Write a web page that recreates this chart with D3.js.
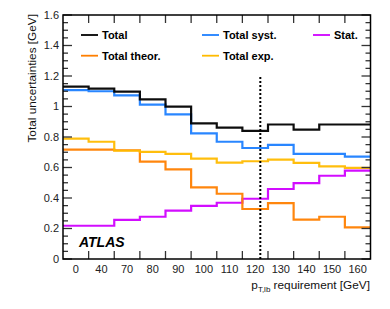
<!DOCTYPE html>
<html>
<head>
<meta charset="utf-8">
<script src="https://cdn.jsdelivr.net/npm/d3@7"></script>
<style>
  body { margin: 0; background: #fff; }
  text { font-family: "Liberation Sans", Arial, sans-serif; }
</style>
</head>
<body>
<div id="chart"></div>
<script>
// bin labels (pT,lb requirement)
var binLabels = ["0", "40", "70", "80", "90", "100", "110", "120", "130", "140", "150", "160"];

// uncertainties per bin [GeV]
var totalVals = [1.130, 1.117, 1.097, 1.047, 0.999, 0.890, 0.861, 0.840, 0.882, 0.848, 0.882, 0.882];
var systVals  = [1.108, 1.100, 1.073, 1.012, 0.949, 0.824, 0.769, 0.728, 0.748, 0.690, 0.690, 0.671];
var expVals   = [0.789, 0.769, 0.710, 0.702, 0.690, 0.658, 0.632, 0.641, 0.651, 0.630, 0.608, 0.597];
var theorVals = [0.717, 0.717, 0.713, 0.638, 0.588, 0.470, 0.428, 0.328, 0.367, 0.258, 0.277, 0.208];
var statVals  = [0.218, 0.218, 0.256, 0.277, 0.317, 0.348, 0.369, 0.395, 0.459, 0.498, 0.546, 0.579];

var yTicks = [0, 0.2, 0.4, 0.6, 0.8, 1, 1.2, 1.4, 1.6];
var chosenBin = 7.7;   // dotted marker (in bin units)
var chosenTop = 1.2;

var svgWidth = 390;
var svgHeight = 309;
var leftX = 63;
var rightX = 370.5;
var topY = 15;
var bottomY = 259;

var series = [
    {name: "Stat.", vals: statVals, color: "#d000ff"},
    {name: "Total theor.", vals: theorVals, color: "#ff7f00"},
    {name: "Total exp.", vals: expVals, color: "#ffbb00"},
    {name: "Total syst.", vals: systVals, color: "#1e7fff"},
    {name: "Total", vals: totalVals, color: "#000000"}
];

var svg = d3.select("#chart")
    .append("svg")
    .attr("width", svgWidth)
    .attr("height", svgHeight);

var xScale = d3.scaleLinear()
    .domain([0, binLabels.length])
    .range([leftX, rightX]);
var yScale = d3.scaleLinear()
    .domain([0, 1.6])
    .range([bottomY, topY]);

// step lines
var line = d3.line()
    .x(d => xScale(d[0]))
    .y(d => yScale(d[1]))
    .curve(d3.curveStepAfter);

series.forEach(s => {
    var pts = s.vals.map((v, i) => [i, v]);
    pts.push([s.vals.length, s.vals[s.vals.length - 1]]);
    svg.append("path")
        .datum(pts)
        .attr("d", line)
        .attr("fill", "none")
        .attr("stroke", s.color)
        .attr("stroke-width", 2.2)
        .attr("stroke-opacity", 0.95);
});

// dotted vertical marker
svg.append("line")
    .attr("x1", xScale(chosenBin))
    .attr("x2", xScale(chosenBin))
    .attr("y1", yScale(0))
    .attr("y2", yScale(chosenTop))
    .attr("stroke", "#000")
    .attr("stroke-width", 2)
    .attr("stroke-dasharray", "2,2");

// ticks (ROOT style, inward)
var tickG = svg.append("g")
    .attr("stroke", "#333")
    .attr("stroke-width", 1.3);

var minor = d3.range(0, 1.6001, 0.05);
minor.forEach(v => {
    var isMajor = Math.abs(v * 5 - Math.round(v * 5)) < 1e-6;
    var len = isMajor ? 9 : 5;
    tickG.append("line")
        .attr("x1", leftX).attr("x2", leftX + len)
        .attr("y1", yScale(v)).attr("y2", yScale(v));
    tickG.append("line")
        .attr("x1", rightX).attr("x2", rightX - len)
        .attr("y1", yScale(v)).attr("y2", yScale(v));
});

d3.range(1, binLabels.length).forEach(i => {
    tickG.append("line")
        .attr("x1", xScale(i)).attr("x2", xScale(i))
        .attr("y1", bottomY).attr("y2", bottomY - 8);
    tickG.append("line")
        .attr("x1", xScale(i)).attr("x2", xScale(i))
        .attr("y1", topY).attr("y2", topY + 8);
});

// frame
svg.append("rect")
    .attr("x", leftX)
    .attr("y", topY)
    .attr("width", rightX - leftX)
    .attr("height", bottomY - topY)
    .attr("fill", "none")
    .attr("stroke", "#000")
    .attr("stroke-width", 1.5);

// tick labels
svg.append("g").selectAll("text")
    .data(yTicks)
    .enter()
    .append("text")
    .attr("x", 59)
    .attr("y", d => yScale(d))
    .attr("dy", "0.35em")
    .attr("text-anchor", "end")
    .attr("font-size", "11px")
    .attr("fill", "#222")
    .text(d => d3.format("")(+d.toFixed(1)));

svg.append("g").selectAll("text")
    .data(binLabels)
    .enter()
    .append("text")
    .attr("x", (d, i) => xScale(i + 0.5))
    .attr("y", 273)
    .attr("text-anchor", "middle")
    .attr("font-size", "11px")
    .attr("fill", "#222")
    .text(d => d);

// axis titles
svg.append("text")
    .attr("transform", "translate(36," + 14 + ") rotate(-90)")
    .attr("text-anchor", "end")
    .attr("font-size", "11.8px")
    .attr("fill", "#111")
    .text("Total uncertainties [GeV]");

var xt = svg.append("text")
    .attr("x", 370)
    .attr("y", 289)
    .attr("text-anchor", "end")
    .attr("font-size", "11.8px")
    .attr("fill", "#111");
xt.append("tspan").text("p");
xt.append("tspan").attr("font-size", "8px").attr("dy", 3).text("T,lb");
xt.append("tspan").attr("dy", -3).text(" requirement [GeV]");

// ATLAS label
svg.append("text")
    .attr("x", 79)
    .attr("y", 247)
    .attr("font-size", "14px")
    .attr("font-weight", "bold")
    .attr("font-style", "italic")
    .attr("fill", "#000")
    .text("ATLAS");

// legend
var legendItems = [
    {name: "Total", color: "#000000", x: 81, y: 35},
    {name: "Total theor.", color: "#ff7f00", x: 81, y: 55.7},
    {name: "Total syst.", color: "#1e7fff", x: 202, y: 35},
    {name: "Total exp.", color: "#ffbb00", x: 202, y: 55.7},
    {name: "Stat.", color: "#d000ff", x: 313, y: 35}
];

var legend = svg.append("g");
legendItems.forEach(d => {
    legend.append("line")
        .attr("x1", d.x).attr("x2", d.x + 17)
        .attr("y1", d.y).attr("y2", d.y)
        .attr("stroke", d.color)
        .attr("stroke-width", 1.8);
    legend.append("text")
        .attr("x", d.x + 21)
        .attr("y", d.y)
        .attr("dy", "0.36em")
        .attr("font-size", "11px")
        .attr("font-weight", "bold")
        .attr("fill", "#000")
        .text(d.name);
});
</script>
</body>
</html>
